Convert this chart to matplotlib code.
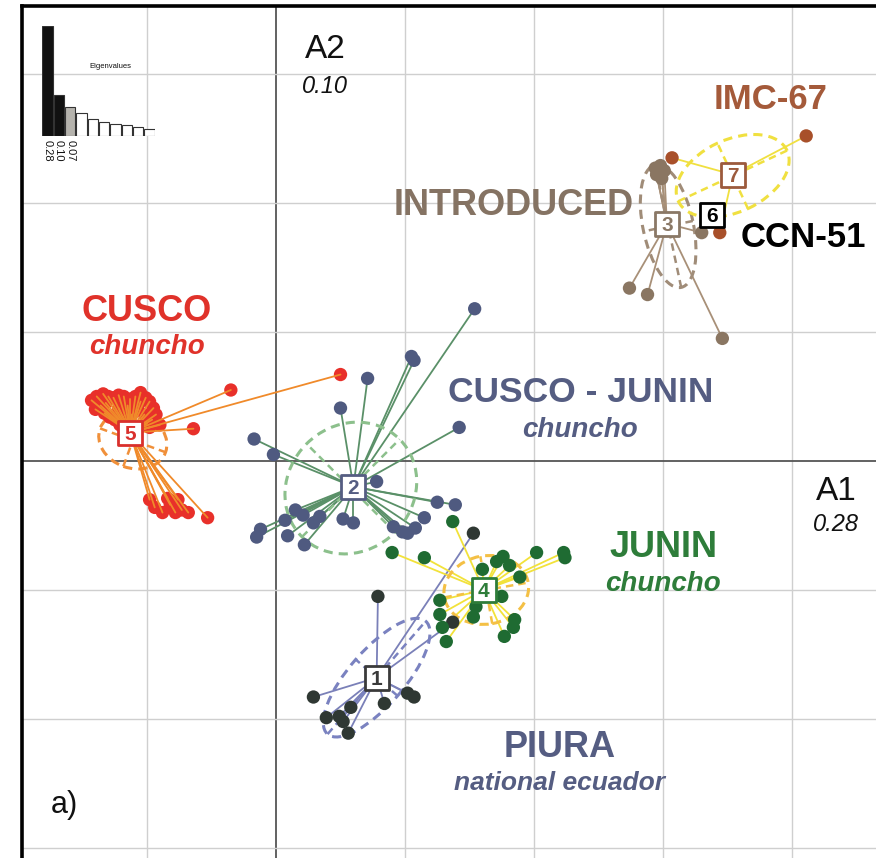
import matplotlib
matplotlib.use("Agg")
import matplotlib.pyplot as plt
from matplotlib.patches import Ellipse
import numpy as np

plt.rcParams['font.family'] = ['Liberation Sans', 'DejaVu Sans']

# ---------------- data (grid unit = 1) ----------------
g5_x = [-1.43, -1.39, -1.34, -1.30, -1.26, -1.22, -1.18, -1.13, -1.09, -1.05, -1.01, -0.98, -0.95,
        -0.93, -0.96, -1.00, -0.98, -1.36, -1.40, -1.33, -1.29, -1.25, -1.21, -1.16, -1.12, -1.07,
        -1.02, -1.32, -1.22, -1.15, -1.05, -1.19, -0.90, -0.35, 0.50, -0.64,
        -0.98, -0.94, -0.88, -0.82, -0.78, -0.73, -0.68, -0.76, -0.84, -0.53]
g5_y = [0.47, 0.50, 0.52, 0.50, 0.49, 0.51, 0.50, 0.48, 0.50, 0.53, 0.49, 0.46, 0.41,
        0.36, 0.32, 0.29, 0.26, 0.43, 0.40, 0.37, 0.34, 0.32, 0.28, 0.32, 0.36, 0.40,
        0.36, 0.45, 0.41, 0.43, 0.46, 0.35, 0.28, 0.55, 0.67, 0.25,
        -0.30, -0.36, -0.40, -0.34, -0.40, -0.38, -0.40, -0.30, -0.29, -0.44]

g2_x = [1.54, 1.05, 1.07, 0.71, 0.50, 1.42, -0.17, -0.02, 0.78, 1.25, 1.39, 1.15, 0.52, 0.60,
        0.91, 0.98, 1.08, 1.02, 0.29, 0.15, 0.07, -0.12, -0.15, 0.09, 0.22, 0.21, 0.34]
g2_y = [1.18, 0.81, 0.78, 0.64, 0.41, 0.26, 0.17, 0.05, -0.16, -0.32, -0.34, -0.44, -0.45, -0.48,
        -0.51, -0.55, -0.52, -0.56, -0.48, -0.38, -0.46, -0.53, -0.59, -0.58, -0.65, -0.42, -0.43]

g4_x = [1.37, 0.90, 1.15, 2.02, 2.23, 2.24, 1.76, 1.71, 1.81, 1.60, 1.89, 1.75, 1.27, 1.55,
        1.53, 1.27, 1.29, 1.85, 1.84, 1.77, 1.32]
g4_y = [-0.47, -0.71, -0.75, -0.71, -0.71, -0.75, -0.74, -0.78, -0.81, -0.84, -0.90, -1.05, -1.08,
        -1.13, -1.21, -1.19, -1.29, -1.23, -1.29, -1.36, -1.40]

g1_x = [0.79, 1.53, 1.37, 0.29, 0.58, 0.39, 0.49, 0.52, 0.56, 0.84, 1.02, 1.07]
g1_y = [-1.05, -0.56, -1.25, -1.83, -1.91, -1.99, -1.98, -2.02, -2.11, -1.88, -1.80, -1.83]

g3_x = [2.94, 2.98, 3.01, 2.99, 2.95, 3.30, 2.74, 2.88, 3.46]
g3_y = [2.27, 2.29, 2.25, 2.19, 2.22, 1.77, 1.34, 1.29, 0.95]

g7_x = [3.07, 4.11, 3.44]
g7_y = [2.35, 2.52, 1.77]

g6_x = [3.38]
g6_y = [1.91]

group_ids = ['1', '2', '3', '4', '5', '6', '7']
centroid_x = [0.78, 0.60, 3.03, 1.61, -1.13, 3.38, 3.54]
centroid_y = [-1.68, -0.20, 1.84, -1.00, 0.22, 1.91, 2.22]

# ellipses: centre x, centre y, width, height, angle
ell_cx = [0.78, 0.58, 3.04, 1.63, -1.11, None, 3.54]
ell_cy = [-1.68, -0.21, 1.82, -1.00, 0.16, None, 2.21]
ell_w = [1.16, 1.07, 0.97, 0.66, 0.54, None, 0.93]
ell_h = [0.43, 0.97, 0.39, 0.53, 0.43, None, 0.56]
ell_ang = [49, 45, 102, 10, -20, None, 25]

eig_values = [0.28, 0.104, 0.074, 0.059, 0.043, 0.036, 0.031, 0.028, 0.023, 0.018]
eig_labels = ['0.28', '0.10', '0.07']

# ---------------- styles ----------------
pt_col = ['#2f3833', '#4f5a80', '#8a7662', '#1f6b32', '#e8302a', '#222222', '#a8502a']
ln_col = ['#7a80b8', '#5a9068', '#a89078', '#f2e23a', '#f08a2a', '#222222', '#f0e040']
el_col = ['#7a82c0', '#8cc08c', '#a08c78', '#f4c045', '#f0903a', '#222222', '#f0e040']
box_col = ['#3a3a3a', '#555d82', '#8a7866', '#2e7d3a', '#d9302c', '#000000', '#9c5a3c']

groups_x = [g1_x, g2_x, g3_x, g4_x, g5_x, g6_x, g7_x]
groups_y = [g1_y, g2_y, g3_y, g4_y, g5_y, g6_y, g7_y]

W, H = 876, 858
fig = plt.figure(figsize=(W / 100, H / 100), dpi=100)
fig.patch.set_facecolor('white')
ax = fig.add_axes([22 / W, 0, 1 - 22 / W, (H - 6) / H])
ax.set_xlim(-1.969, 4.651)
ax.set_ylim(-3.078, 3.527)
ax.set_xticks([]); ax.set_yticks([])
for s in ['right', 'bottom']:
    ax.spines[s].set_visible(False)
ax.spines['left'].set_linewidth(2.6)
ax.spines['top'].set_linewidth(2.6)

for gx in range(-1, 5):
    ax.axvline(gx, color='#555555' if gx == 0 else '#cfcfcf',
               lw=1.3 if gx == 0 else 1.0, zorder=1)
for gy in range(-3, 4):
    ax.axhline(gy, color='#555555' if gy == 0 else '#cfcfcf',
               lw=1.3 if gy == 0 else 1.0, zorder=1)

for i in range(7):
    xs, ys = groups_x[i], groups_y[i]
    cx, cy = centroid_x[i], centroid_y[i]
    line_z = 4 if i == 4 else 2
    if i != 5:
        for px, py in zip(xs, ys):
            ax.plot([cx, px], [cy, py], color=ln_col[i], lw=1.3, zorder=line_z,
                    solid_capstyle='round')
    ax.scatter(xs, ys, s=92, color=pt_col[i], edgecolors='none', zorder=3)
    if ell_cx[i] is not None:
        e = Ellipse((ell_cx[i], ell_cy[i]), ell_w[i], ell_h[i], angle=ell_ang[i],
                    fill=False, ec=el_col[i], lw=2.2, ls=(0, (3, 2)), zorder=2.5)
        ax.add_patch(e)
        a = np.deg2rad(ell_ang[i])
        for half, ang in ((ell_w[i] / 2, a), (ell_h[i] / 2, a + np.pi / 2)):
            dx, dy = half * np.cos(ang), half * np.sin(ang)
            ax.plot([ell_cx[i] - dx, ell_cx[i] + dx], [ell_cy[i] - dy, ell_cy[i] + dy],
                    color=el_col[i], lw=1.8, ls=(0, (3, 2)), zorder=2.5)

for i in range(7):
    ax.scatter([centroid_x[i]], [centroid_y[i]], marker='s', s=290, facecolor='white',
               edgecolor=box_col[i], linewidths=2.0, zorder=7)
    ax.text(centroid_x[i], centroid_y[i], group_ids[i], ha='center', va='center_baseline',
            fontsize=15, fontweight='bold', color=box_col[i], zorder=8)

# ---------------- annotations ----------------
ax.text(0.38, 3.19, 'A2', fontsize=24, ha='center', va='center', color='#111111')
ax.text(0.38, 2.90, '0.10', fontsize=17, ha='center', va='center', style='italic', color='#111111')
ax.text(4.34, -0.235, 'A1', fontsize=24, ha='center', va='center', color='#111111')
ax.text(4.34, -0.49, '0.28', fontsize=17, ha='center', va='center', style='italic', color='#111111')

ax.text(3.83, 2.80, 'IMC-67', fontsize=25, fontweight='bold', color='#a45a3a', ha='center', va='center', zorder=9)
ax.text(1.84, 1.98, 'INTRODUCED', fontsize=26, fontweight='bold', color='#857363', ha='center', va='center', zorder=9)
ax.text(4.09, 1.73, 'CCN-51', fontsize=25, fontweight='bold', color='#000000', ha='center', va='center', zorder=9)
ax.text(-1.00, 1.16, 'CUSCO', fontsize=26, fontweight='bold', color='#e0322a', ha='center', va='center', zorder=9)
ax.text(-1.00, 0.88, 'chuncho', fontsize=20, fontweight='bold', style='italic', color='#e0322a', ha='center', va='center', zorder=9)
ax.text(2.36, 0.53, 'CUSCO - JUNIN', fontsize=25.5, fontweight='bold', color='#555d82', ha='center', va='center', zorder=9)
ax.text(2.36, 0.24, 'chuncho', fontsize=20, fontweight='bold', style='italic', color='#555d82', ha='center', va='center', zorder=9)
ax.text(3.00, -0.67, 'JUNIN', fontsize=26, fontweight='bold', color='#2e7d3a', ha='center', va='center', zorder=9)
ax.text(3.00, -0.95, 'chuncho', fontsize=20, fontweight='bold', style='italic', color='#2e7d3a', ha='center', va='center', zorder=9)
ax.text(2.20, -2.22, 'PIURA', fontsize=26, fontweight='bold', color='#555d82', ha='center', va='center', zorder=9)
ax.text(2.20, -2.50, 'national ecuador', fontsize=19, fontweight='bold', style='italic', color='#555d82', ha='center', va='center', zorder=9)
ax.text(-1.64, -2.67, 'a)', fontsize=22, color='#111111', ha='center', va='center')

# ---------------- eigenvalue inset ----------------
iax = fig.add_axes([42 / W, (H - 136) / H, 113 / W, 110 / H])
iax.set_xlim(0, 10)
iax.set_ylim(0, 0.28)
iax.axis('off')
fills = ['#111111', '#111111', '#b5b3ad'] + ['white'] * 7
iax.bar(np.arange(10) + 0.5, eig_values, width=0.92, color=fills,
        edgecolor='#333333', linewidth=0.8)
for k, lab in enumerate(eig_labels):
    iax.text(k + 0.5, -0.01, lab, rotation=-90, ha='center', va='top', fontsize=8, color='#111111')
fig.text(110 / W, 1 - 67 / H, 'Eigenvalues', fontsize=5.5, ha='center', va='center', color='#111111')

fig.savefig('out.png', dpi=100)
